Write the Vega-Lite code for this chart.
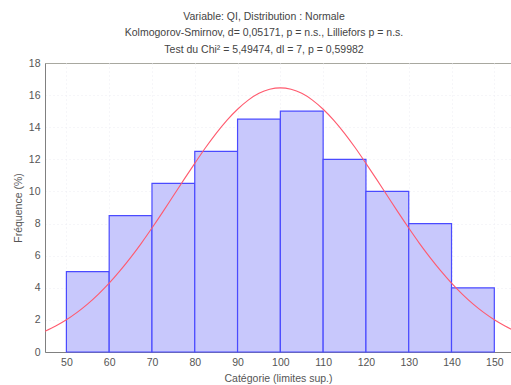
{
  "$schema": "https://vega.github.io/schema/vega-lite/v6.json",
  "width": 466,
  "height": 289,
  "autosize": {"type": "none"},
  "padding": {"left": 45, "top": 63, "right": 0, "bottom": 33},
  "background": "white",
  "config": {
    "font": "Liberation Sans",
    "view": {"stroke": "#a8a8a0", "strokeWidth": 1},
    "axis": {
      "labelFont": "Liberation Sans", "titleFont": "Liberation Sans",
      "labelFontSize": 10.5, "titleFontSize": 10.5, "labelColor": "#555", "titleColor": "#555",
      "titleFontWeight": "normal", "domainColor": "#808080", "tickColor": "#606060",
      "gridColor": "#ececf2", "gridDash": [1, 3], "labelOverlap": false
    }
  },
  "title": {
    "text": ["Variable: QI, Distribution : Normale", "Kolmogorov-Smirnov, d= 0,05171, p = n.s., Lilliefors p = n.s.", "Test du Chi² =  5,49474, dl = 7, p = 0,59982"],
    "font": "Liberation Sans", "fontSize": 10.5, "fontWeight": "normal", "color": "#444",
    "lineHeight": 16.5, "anchor": "middle", "dx": -14, "offset": 3
  },
  "datasets": {
    "bars": [
      {"x": 50, "x_hi": 60, "y": 5},
      {"x": 60, "x_hi": 70, "y": 8.5},
      {"x": 70, "x_hi": 80, "y": 10.5},
      {"x": 80, "x_hi": 90, "y": 12.5},
      {"x": 90, "x_hi": 100, "y": 14.5},
      {"x": 100, "x_hi": 110, "y": 15},
      {"x": 110, "x_hi": 120, "y": 12},
      {"x": 120, "x_hi": 130, "y": 10},
      {"x": 130, "x_hi": 140, "y": 8},
      {"x": 140, "x_hi": 150, "y": 4}
    ],
    "curve": [
      {"x": 45, "y": 1.29}, {"x": 47.5, "y": 1.62}, {"x": 50, "y": 2.01}, {"x": 52.5, "y": 2.47},
      {"x": 55, "y": 3.0}, {"x": 57.5, "y": 3.61}, {"x": 60, "y": 4.29}, {"x": 62.5, "y": 5.05},
      {"x": 65, "y": 5.88}, {"x": 67.5, "y": 6.77}, {"x": 70, "y": 7.72}, {"x": 72.5, "y": 8.71},
      {"x": 75, "y": 9.73}, {"x": 77.5, "y": 10.75}, {"x": 80, "y": 11.75}, {"x": 82.5, "y": 12.72},
      {"x": 85, "y": 13.62}, {"x": 87.5, "y": 14.43}, {"x": 90, "y": 15.12}, {"x": 92.5, "y": 15.69},
      {"x": 95, "y": 16.11}, {"x": 97.5, "y": 16.36}, {"x": 100, "y": 16.45}, {"x": 102.5, "y": 16.36},
      {"x": 105, "y": 16.11}, {"x": 107.5, "y": 15.69}, {"x": 110, "y": 15.12}, {"x": 112.5, "y": 14.43},
      {"x": 115, "y": 13.62}, {"x": 117.5, "y": 12.72}, {"x": 120, "y": 11.75}, {"x": 122.5, "y": 10.75},
      {"x": 125, "y": 9.73}, {"x": 127.5, "y": 8.71}, {"x": 130, "y": 7.72}, {"x": 132.5, "y": 6.77},
      {"x": 135, "y": 5.88}, {"x": 137.5, "y": 5.05}, {"x": 140, "y": 4.29}, {"x": 142.5, "y": 3.61},
      {"x": 145, "y": 3.0}, {"x": 147.5, "y": 2.47}, {"x": 150, "y": 2.01}, {"x": 152.5, "y": 1.62},
      {"x": 155, "y": 1.29}
    ]
  },
  "encoding": {
    "x": {"field": "x", "type": "quantitative",
      "scale": {"domain": [45, 153.9], "nice": false, "zero": false},
      "axis": {"values": [50, 60, 70, 80, 90, 100, 110, 120, 130, 140, 150], "title": "Catégorie (limites sup.)", "tickSize": 0, "labelPadding": 5, "titlePadding": 6, "grid": true}},
    "y": {"field": "y", "type": "quantitative",
      "scale": {"domain": [0, 18], "nice": false},
      "axis": {"values": [0, 2, 4, 6, 8, 10, 12, 14, 16, 18], "title": "Fréquence (%)", "tickSize": 0, "labelPadding": 5, "titlePadding": 5, "grid": true,
        "gridOpacity": {"condition": {"test": "datum.value >= 18", "value": 0}, "value": 1}}}
  },
  "layer": [
    {
      "data": {"name": "bars"},
      "mark": {"type": "bar", "fill": "#c8c8fc", "stroke": "#4a4aff", "strokeWidth": 1.2},
      "encoding": {
        "x2": {"field": "x_hi"},
        "y2": {"datum": 0}
      }
    },
    {
      "data": {"name": "curve"},
      "mark": {"type": "line", "color": "#ff5a6e", "strokeWidth": 1.1, "interpolate": "monotone", "clip": true},
      "encoding": {}
    }
  ]
}
